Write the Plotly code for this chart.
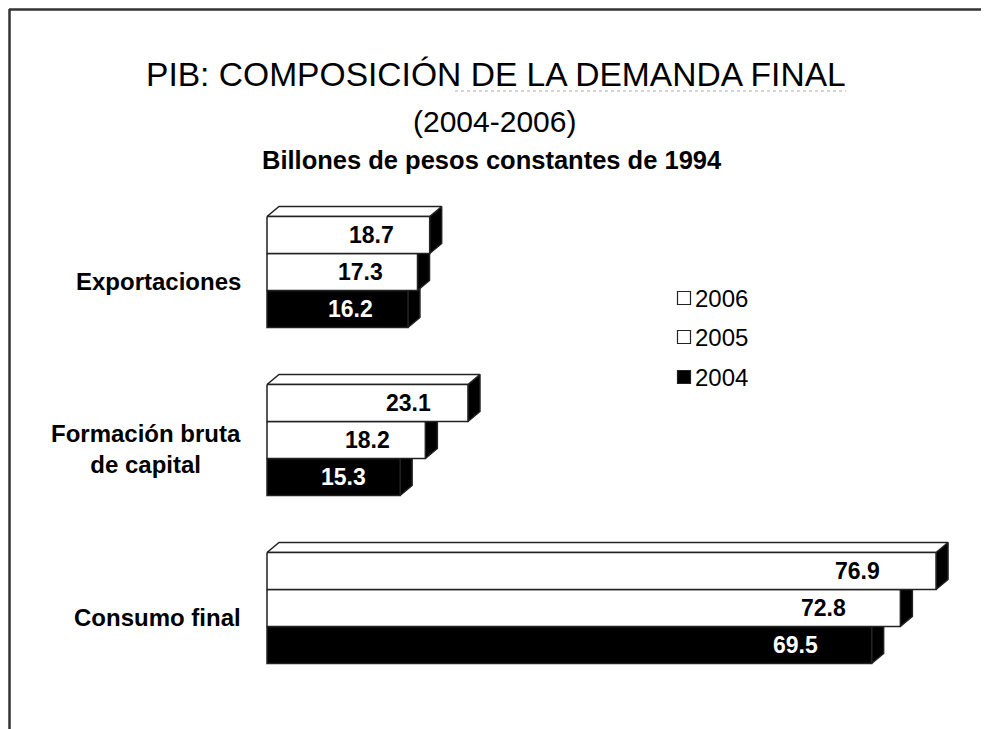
import plotly.graph_objects as go

# ---- data ----
categories = ["Exportaciones", "Formación bruta<br>de capital", "Consumo final"]
years = ["2006", "2005", "2004"]
values_2006 = [18.7, 23.1, 76.9]
values_2005 = [17.3, 18.2, 72.8]
values_2004 = [16.2, 15.3, 69.5]
series = {"2006": values_2006, "2005": values_2005, "2004": values_2004}
face_color = {"2006": "white", "2005": "white", "2004": "black"}
text_color = {"2006": "black", "2005": "black", "2004": "white"}

title_1 = "PIB: COMPOSICIÓN DE LA DEMANDA FINAL"
title_2 = "(2004-2006)"
title_3 = "Billones de pesos constantes de 1994"

# ---- geometry (layout constants, in page pixels) ----
W, H = 989, 729
OFF = 8              # page offset of the figure (body margin)
X0_PX = 267 - OFF    # figure pixel of value 0
PX_PER_X = 8.7       # pixels per value unit
Y0_PX = 272 - OFF    # figure pixel of first group centre
PX_PER_Y = 37        # pixels per bar height
GROUP_STEP = 168 / 37
DX = 12 / PX_PER_X   # 3D depth in x units
DY = 10 / PX_PER_Y   # 3D depth in y units
EDGE = "#222222"

x_range = [-X0_PX / PX_PER_X, (W - X0_PX) / PX_PER_X]
y_range = [(H - Y0_PX) / PX_PER_Y, -Y0_PX / PX_PER_Y]  # reversed


def px(x):
    return (x - OFF) / W


def py(y):
    return 1 - (y - OFF) / H


fig = go.Figure()


def poly(xs, ys, fill):
    fig.add_trace(go.Scatter(
        x=xs + [xs[0]], y=ys + [ys[0]], mode="lines", fill="toself",
        fillcolor=fill, line=dict(color=EDGE, width=1.5),
        hoverinfo="skip", showlegend=False))


annotations = []
for g, cat in enumerate(categories):
    yc = g * GROUP_STEP
    # draw bottom bar first so upper bars cover hidden parts
    for k in [2, 1, 0]:
        yr = years[k]
        v = series[yr][g]
        yt = yc + (k - 1) - 0.5
        yb = yt + 1
        # side face
        poly([v, v + DX, v + DX, v], [yt, yt - DY, yb - DY, yb], "black")
        # top face
        poly([0, DX, v + DX, v], [yt, yt - DY, yt - DY, yt], "white")
        # front face
        poly([0, v, v, 0], [yt, yt, yb, yb], face_color[yr])
        annotations.append(dict(
            x=0.96 * v - 3.1, y=(yt + yb) / 2, xref="x", yref="y",
            text=f"<b>{v:.1f}</b>", showarrow=False, xanchor="right",
            yanchor="middle",
            font=dict(family="Liberation Sans, Arial", size=23,
                      color=text_color[yr])))
    annotations.append(dict(
        x=0, y=yc + 9 / PX_PER_Y, xref="x", yref="y", xshift=-24,
        text=f"<b>{cat}</b>", showarrow=False, xanchor="right",
        yanchor="middle", align="center",
        font=dict(family="Liberation Sans, Arial", size=24, color="black")))

title_font = "Liberation Sans Narrow, Arial Narrow, Liberation Sans, Arial"
annotations += [
    dict(x=px(496), y=py(75), xref="paper", yref="paper", text=title_1,
         showarrow=False, xanchor="center", yanchor="middle",
         font=dict(family=title_font, size=33.6, color="black")),
    dict(x=px(494), y=py(122), xref="paper", yref="paper", text=title_2,
         showarrow=False, xanchor="center", yanchor="middle",
         font=dict(family=title_font, size=30, color="black")),
    dict(x=px(492), y=py(160), xref="paper", yref="paper",
         text=f"<b>{title_3}</b>", showarrow=False, xanchor="center",
         yanchor="middle", font=dict(family=title_font, size=25.5, color="black")),
]

shapes = [
    # slide frame
    dict(type="line", xref="paper", yref="paper", x0=px(9), x1=1.0,
         y0=py(9.5), y1=py(9.5), line=dict(color="#333333", width=2.5)),
    dict(type="line", xref="paper", yref="paper", x0=px(9.5), x1=px(9.5),
         y0=py(9), y1=0, line=dict(color="#333333", width=2.5)),
    # dotted underline under part of the title
    dict(type="line", xref="paper", yref="paper", x0=px(455), x1=px(846),
         y0=py(91), y1=py(91), line=dict(color="#aaaaaa", width=1, dash="dot")),
]

# legend (manual)
legend_y = {"2006": 298, "2005": 337, "2004": 377}
for yr in years:
    yy = legend_y[yr]
    shapes.append(dict(type="rect", xref="paper", yref="paper",
                       x0=px(677.5), x1=px(690.5), y0=py(yy - 6.5), y1=py(yy + 6.5),
                       fillcolor=face_color[yr], line=dict(color=EDGE, width=1.2)))
    annotations.append(dict(x=px(693), y=py(yy), xref="paper", yref="paper",
                            text=yr, showarrow=False, xanchor="left",
                            yanchor="middle",
                            font=dict(family="Liberation Sans, Arial", size=24,
                                      color="black")))

fig.update_layout(
    width=W, height=H, autosize=False,
    margin=dict(l=0, r=0, t=0, b=0),
    paper_bgcolor="white", plot_bgcolor="white",
    xaxis=dict(range=x_range, visible=False, fixedrange=True),
    yaxis=dict(range=y_range, visible=False, fixedrange=True),
    annotations=annotations, shapes=shapes, showlegend=False,
)

fig.write_html("out.html")
